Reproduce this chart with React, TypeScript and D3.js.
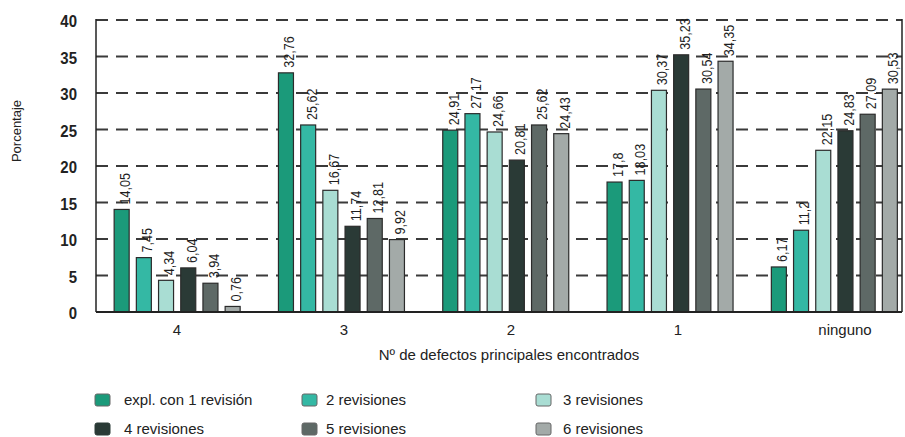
import React, { useEffect, useRef } from 'react';
import * as d3 from 'd3';

const categories = ['4', '3', '2', '1', 'ninguno'];
const seriesNames = [
  'expl. con 1 revisión',
  '2 revisiones',
  '3 revisiones',
  '4 revisiones',
  '5 revisiones',
  '6 revisiones',
];
const rev1 = [14.05, 32.76, 24.91, 17.8, 6.17];
const rev2 = [7.45, 25.62, 27.17, 18.03, 11.2];
const rev3 = [4.34, 16.67, 24.66, 30.37, 22.15];
const rev4 = [6.04, 11.74, 20.81, 35.23, 24.83];
const rev5 = [3.94, 12.81, 25.62, 30.54, 27.09];
const rev6 = [0.76, 9.92, 24.43, 34.35, 30.53];
const yTicks = [0, 5, 10, 15, 20, 25, 30, 35, 40];

const colors = ['#1b9a7a', '#34b8a4', '#a9ddd3', '#2a3a36', '#5e6966', '#a3aaa8'];

const App = () => {
  const svgRef = useRef(null);

  const width = 905;
  const height = 437;
  const left = 96;
  const right = 902;
  const top = 20;
  const bottom = 312;

  useEffect(() => {
    const svg = d3.select(svgRef.current);
    svg.selectAll('*').remove();

    const allSeries = [rev1, rev2, rev3, rev4, rev5, rev6];
    const font = "'Liberation Sans', Arial, sans-serif";

    const y = d3.scaleLinear().domain([0, 40]).range([bottom, top]);
    const x0 = d3.scaleBand().domain(categories).range([95, 916.5]);
    const x1 = d3.scaleBand().domain(d3.range(6).map(String)).range([0, 126]).paddingInner(0.324);
    const groupOffset = (x0.bandwidth() - 126) / 2;
    const labelX = d3.scalePoint().domain(categories).range([177, 845]);

    // dashed grid
    svg
      .append('g')
      .selectAll('line')
      .data(yTicks.filter((d) => d > 0))
      .enter()
      .append('line')
      .attr('x1', left)
      .attr('x2', right)
      .attr('y1', (d) => y(d))
      .attr('y2', (d) => y(d))
      .attr('stroke', '#3a3a3a')
      .attr('stroke-width', 1.8)
      .attr('stroke-dasharray', '12,8');

    // frame
    svg
      .append('line')
      .attr('x1', left)
      .attr('x2', left)
      .attr('y1', top - 1)
      .attr('y2', bottom)
      .attr('stroke', '#222')
      .attr('stroke-width', 1.5);
    svg
      .append('line')
      .attr('x1', right)
      .attr('x2', right)
      .attr('y1', top - 1)
      .attr('y2', bottom)
      .attr('stroke', '#222')
      .attr('stroke-width', 1.5);

    // bars
    const groups = svg
      .append('g')
      .selectAll('g')
      .data(categories)
      .enter()
      .append('g')
      .attr('transform', (c) => `translate(${(x0(c) as number) + groupOffset},0)`);

    groups
      .selectAll('rect')
      .data((c, ci) => allSeries.map((s, si) => ({ si, v: s[ci] })))
      .enter()
      .append('rect')
      .attr('x', (d) => x1(String(d.si)) as number)
      .attr('y', (d) => y(d.v))
      .attr('width', x1.bandwidth())
      .attr('height', (d) => bottom - y(d.v))
      .attr('fill', (d) => colors[d.si])
      .attr('stroke', '#2b2b2b')
      .attr('stroke-width', 1.2);

    // value labels, rotated and condensed
    groups
      .selectAll('text')
      .data((c, ci) => allSeries.map((s, si) => ({ si, v: s[ci] })))
      .enter()
      .append('text')
      .attr('transform', (d) => {
        const cx = (x1(String(d.si)) as number) + x1.bandwidth() / 2 + 3;
        return `translate(${cx},${y(d.v) - 5}) rotate(-90) scale(0.84,1)`;
      })
      .attr('dy', '0.36em')
      .attr('font-family', font)
      .attr('font-size', 15)
      .attr('fill', '#1e1e1e')
      .text((d) => String(d.v).replace('.', ','));

    // baseline
    svg
      .append('line')
      .attr('x1', left)
      .attr('x2', right)
      .attr('y1', bottom)
      .attr('y2', bottom)
      .attr('stroke', '#222')
      .attr('stroke-width', 1.8);

    // y tick labels
    svg
      .append('g')
      .selectAll('text')
      .data(yTicks)
      .enter()
      .append('text')
      .attr('transform', (d) => `translate(77,${y(d) + 1}) scale(0.88,1)`)
      .attr('dy', '0.36em')
      .attr('text-anchor', 'end')
      .attr('font-family', font)
      .attr('font-size', 17)
      .attr('font-weight', 'bold')
      .attr('fill', '#222')
      .text((d) => d);

    // category labels
    svg
      .append('g')
      .selectAll('text')
      .data(categories)
      .enter()
      .append('text')
      .attr('x', (d) => labelX(d) as number)
      .attr('y', 330)
      .attr('dy', '0.35em')
      .attr('text-anchor', 'middle')
      .attr('font-family', font)
      .attr('font-size', 15)
      .attr('fill', '#222')
      .text((d) => d);

    svg
      .append('text')
      .attr('x', 509)
      .attr('y', 355)
      .attr('dy', '0.35em')
      .attr('text-anchor', 'middle')
      .attr('font-family', font)
      .attr('font-size', 15)
      .attr('fill', '#222')
      .text('Nº de defectos principales encontrados');

    svg
      .append('text')
      .attr('transform', `translate(16,131) rotate(-90)`)
      .attr('dy', '0.35em')
      .attr('text-anchor', 'middle')
      .attr('font-family', font)
      .attr('font-size', 13)
      .attr('fill', '#222')
      .text('Porcentaje');

    // legend
    const legX = [95, 302, 536];
    const legY = [400, 429];
    const leg = svg
      .append('g')
      .selectAll('g')
      .data(seriesNames)
      .enter()
      .append('g')
      .attr('transform', (d, i) => `translate(${legX[i % 3]},${legY[Math.floor(i / 3)]})`);
    leg
      .append('rect')
      .attr('x', 0)
      .attr('y', -6)
      .attr('width', 15)
      .attr('height', 12)
      .attr('rx', 2)
      .attr('fill', (d, i) => colors[i])
      .attr('stroke', (d, i) => (i === 3 ? colors[3] : '#666'))
      .attr('stroke-width', 1);
    leg
      .append('text')
      .attr('x', (d, i) => (i % 3 === 0 ? 29 : i % 3 === 1 ? 24 : 27))
      .attr('dy', '0.35em')
      .attr('font-family', font)
      .attr('font-size', 15)
      .attr('fill', '#222')
      .text((d) => d);
  }, []);

  return (
    <svg
      ref={svgRef}
      width={width}
      height={height}
      style={{ position: 'absolute', left: 0, top: 0, background: '#fff' }}
    />
  );
};

export default App;
